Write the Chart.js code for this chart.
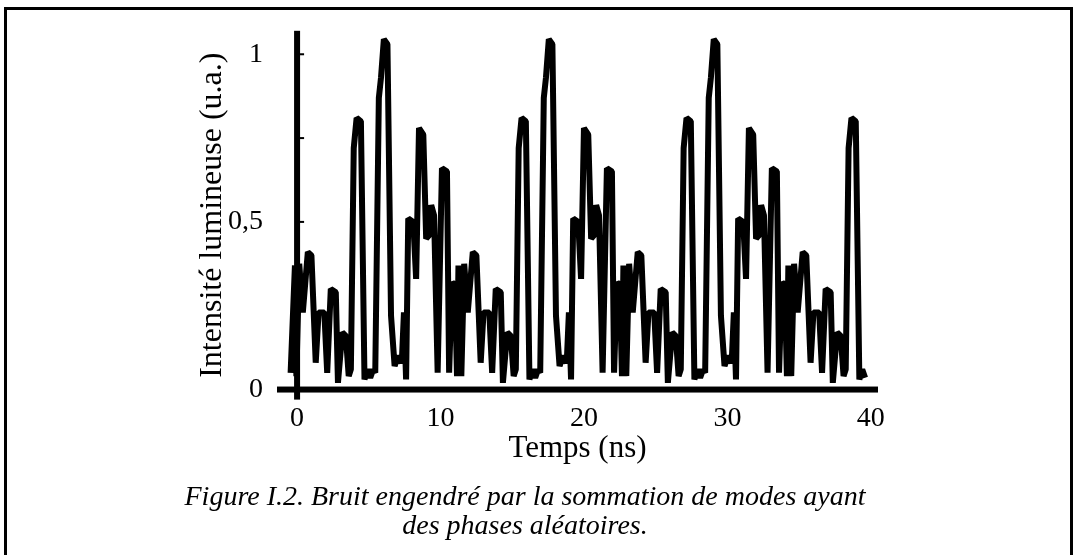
<!DOCTYPE html>
<html lang="fr">
<head>
<meta charset="utf-8">
<script src="https://cdn.jsdelivr.net/npm/chart.js@4.4.1/dist/chart.umd.min.js"></script>
<style>
  html, body { margin: 0; padding: 0; background: #fff; }
  #page { position: relative; width: 1077px; height: 555px; overflow: hidden; }
  #frame { position: absolute; left: 4px; top: 7px; width: 1063px; height: 600px;
           border: 3px solid #000; border-bottom: none; }
  #chartBox { position: absolute; left: 0; top: 0; width: 1077px; height: 555px; }
  #caption { position: absolute; left: 0; width: 1050px; top: 481px; text-align: center;
             font-family: "Liberation Serif", "DejaVu Serif", serif; font-style: italic;
             font-size: 28px; line-height: 29px; color: #000; }
</style>
</head>
<body>
<div id="page">
  <div id="frame"></div>
  <div id="chartBox"><canvas id="chart"></canvas></div>
  <div id="caption">Figure I.2. Bruit engendré par la sommation de modes ayant<br>des phases aléatoires.</div>
</div>
<script>
// temps (ns) et intensité
const timeNs = [
  -0.45, -0.15, -0.05, 0.15, 0.4, 0.75, 1.0, 1.3, 1.5, 1.9, 2.1, 2.35, 2.7, 2.85, 3.15, 3.4, 3.6, 3.75, 3.95, 4.15,
  4.45, 4.7, 4.9, 5.1, 5.3, 5.45, 5.7, 5.85, 6.05, 6.3, 6.55, 6.8, 7.05, 7.3, 7.45, 7.6, 7.75, 8.1, 8.3, 8.5,
  8.8, 9.0, 9.2, 9.35, 9.55, 9.8, 10.1, 10.45, 10.6, 10.8, 11.0, 11.15,
  11.25, 11.45, 11.65, 11.9, 12.25, 12.5, 12.8, 13.0, 13.4, 13.6, 13.85, 14.2, 14.35, 14.65, 14.9, 15.1, 15.25, 15.45,
  15.65, 15.95, 16.2, 16.4, 16.6, 16.8, 16.95, 17.2, 17.35, 17.55, 17.8, 18.05, 18.3, 18.55, 18.8, 18.95, 19.1, 19.25,
  19.6, 19.8, 20.0, 20.3, 20.5, 20.7, 20.85, 21.05, 21.3, 21.6, 21.95, 22.1, 22.3, 22.5, 22.65,
  22.75, 22.95, 23.15, 23.4, 23.75, 24.0, 24.3, 24.5, 24.9, 25.1, 25.35, 25.7, 25.85, 26.15, 26.4, 26.6, 26.75, 26.95,
  27.15, 27.45, 27.7, 27.9, 28.1, 28.3, 28.45, 28.7, 28.85, 29.05, 29.3, 29.55, 29.8, 30.05, 30.3, 30.45, 30.6, 30.75,
  31.1, 31.3, 31.5, 31.8, 32.0, 32.2, 32.35, 32.55, 32.8, 33.1, 33.45, 33.6, 33.8, 34.0, 34.15,
  34.25, 34.45, 34.65, 34.9, 35.25, 35.5, 35.8, 36.0, 36.4, 36.6, 36.85, 37.2, 37.35, 37.65, 37.9, 38.1, 38.25, 38.45,
  38.65, 38.95, 39.2, 39.4, 39.6
];
const intensity = [
  0.05, 0.37, 0.04, 0.375, 0.23, 0.41, 0.40, 0.08, 0.23, 0.23, 0.05, 0.30, 0.29, 0.02, 0.17, 0.16, 0.04, 0.06, 0.72, 0.81,
  0.80, 0.03, 0.06, 0.035, 0.06, 0.05, 0.87, 0.93, 1.045, 1.03, 0.22, 0.07, 0.10, 0.08, 0.23, 0.03, 0.51, 0.50, 0.33, 0.78,
  0.76, 0.45, 0.46, 0.55, 0.52, 0.05, 0.66, 0.65, 0.05, 0.32, 0.31, 0.04,
  0.37, 0.04, 0.375, 0.23, 0.41, 0.40, 0.08, 0.23, 0.23, 0.05, 0.30, 0.29, 0.02, 0.17, 0.16, 0.04, 0.06, 0.72,
  0.81, 0.80, 0.03, 0.06, 0.035, 0.06, 0.05, 0.87, 0.93, 1.045, 1.03, 0.22, 0.07, 0.10, 0.08, 0.23, 0.03, 0.51,
  0.50, 0.33, 0.78, 0.76, 0.45, 0.46, 0.55, 0.52, 0.05, 0.66, 0.65, 0.05, 0.32, 0.31, 0.04,
  0.37, 0.04, 0.375, 0.23, 0.41, 0.40, 0.08, 0.23, 0.23, 0.05, 0.30, 0.29, 0.02, 0.17, 0.16, 0.04, 0.06, 0.72,
  0.81, 0.80, 0.03, 0.06, 0.035, 0.06, 0.05, 0.87, 0.93, 1.045, 1.03, 0.22, 0.07, 0.10, 0.08, 0.23, 0.03, 0.51,
  0.50, 0.33, 0.78, 0.76, 0.45, 0.46, 0.55, 0.52, 0.05, 0.66, 0.65, 0.05, 0.32, 0.31, 0.04,
  0.37, 0.04, 0.375, 0.23, 0.41, 0.40, 0.08, 0.23, 0.23, 0.05, 0.30, 0.29, 0.02, 0.17, 0.16, 0.04, 0.06, 0.72,
  0.81, 0.80, 0.03, 0.06, 0.035
];
const xTicks = [0, 10, 20, 30, 40];
const yTicks = [0, 0.5, 1];
const yMinorTicks = [0.25, 0.5, 0.75, 1];
const xTitle = "Temps (ns)";
const yTitle = "Intensité lumineuse (u.a.)";

const serif = "'Liberation Serif', 'DejaVu Serif', serif";

// axes épais dessinés à t = 0 et I = 0, comme sur la figure
const axesLines = {
  id: "axesLines",
  afterDatasetsDraw(chart) {
    const { ctx, scales: { x, y }, chartArea } = chart;
    ctx.save();
    ctx.fillStyle = "#000";
    const y0 = y.getPixelForValue(0);
    ctx.fillRect(chartArea.left, y0 - 3, chartArea.right - chartArea.left, 6);
    const x0 = x.getPixelForValue(0);
    ctx.fillRect(x0 - 3, chartArea.top, 6, chartArea.bottom - chartArea.top);
    yMinorTicks.forEach(v => {
      const py = y.getPixelForValue(v);
      ctx.fillRect(x0 + 2, py - 1, 5, 2);
    });
    ctx.restore();
  }
};

new Chart(document.getElementById("chart"), {
  type: "line",
  data: {
    datasets: [{
      data: timeNs.map((t, i) => ({ x: t, y: intensity[i] })),
      borderColor: "#000",
      borderWidth: 6,
      borderJoinStyle: "bevel",
      pointRadius: 0,
      tension: 0,
      fill: false
    }]
  },
  options: {
    responsive: true,
    maintainAspectRatio: false,
    animation: false,
    layout: { padding: { left: 190, right: 199, top: 30, bottom: 85 } },
    plugins: { legend: { display: false }, tooltip: { enabled: false } },
    scales: {
      x: {
        type: "linear",
        min: -1.4,
        max: 40.5,
        afterBuildTicks: s => { s.ticks = xTicks.map(v => ({ value: v })); },
        afterFit: s => { s.height = 555 - 85 - 399.6; },
        grid: { display: false, drawTicks: false },
        border: { display: false },
        ticks: { color: "#000", font: { family: serif, size: 28 }, padding: 2, maxRotation: 0, autoSkip: false },
        title: { display: true, text: xTitle, color: "#000", font: { family: serif, size: 31 }, padding: { top: 0, bottom: 3 } }
      },
      y: {
        min: -0.03,
        max: 1.07,
        afterBuildTicks: s => { s.ticks = yTicks.map(v => ({ value: v })); },
        afterFit: s => { s.width = 277 - 190; },
        grid: { display: false, drawTicks: false },
        border: { display: false },
        ticks: { color: "#000", font: { family: serif, size: 28 }, padding: 14,
                 callback: v => String(v).replace(".", ",") },
        title: { display: true, text: yTitle, color: "#000", font: { family: serif, size: 32 }, padding: { top: 3, bottom: 0 } }
      }
    }
  },
  plugins: [axesLines]
});
</script>
</body>
</html>
